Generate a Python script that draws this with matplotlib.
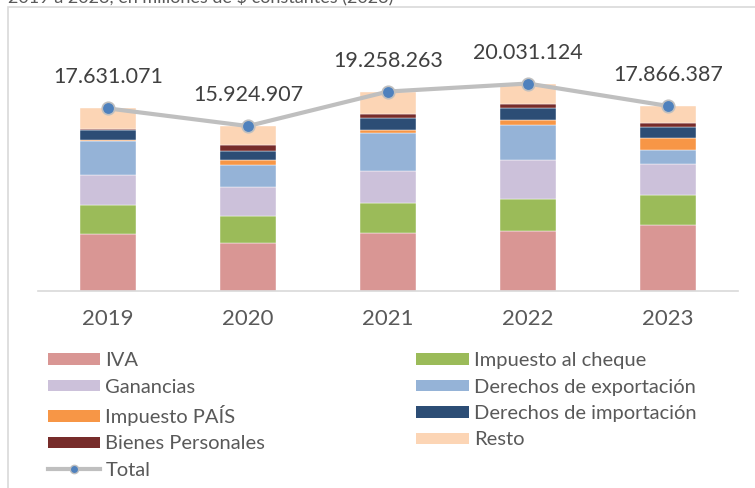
import numpy as np
import matplotlib
matplotlib.use("Agg")
import matplotlib.pyplot as plt
from matplotlib.patches import Patch, Rectangle
from matplotlib.lines import Line2D

plt.rcParams["font.family"] = ["Lato", "DejaVu Sans"]

# ---------------------------------------------------------------------------
# Data: recaudación por tributo, en millones de $ constantes (2023)
# ---------------------------------------------------------------------------
YEARS = ["2019", "2020", "2021", "2022", "2023"]

IVA       = [5480000, 4650000, 5570000, 5790000, 6330000]
CHEQUE    = [2830000, 2600000, 2930000, 3060000, 2950000]
GANANCIAS = [2900000, 2760000, 3120000, 3790000, 2990000]
EXPORT    = [3280000, 2120000, 3610000, 3350000, 1390000]
PAIS      = [50000,    510000,  320000,  510000, 1120000]
IMPORT    = [1000000,  910000, 1190000, 1190000, 1100000]
BIENES    = [100000,   510000,  390000,  390000,  320000]
RESTO     = [1990000, 1860000, 2130000, 1950000, 1670000]
TOTAL     = [17631071, 15924907, 19258263, 20031124, 17866387]

SERIES = [
    ("IVA", IVA, "#D99694"),
    ("Impuesto al cheque", CHEQUE, "#9BBB59"),
    ("Ganancias", GANANCIAS, "#CCC1DA"),
    ("Derechos de exportación", EXPORT, "#95B3D7"),
    ("Impuesto PAÍS", PAIS, "#F79646"),
    ("Derechos de importación", IMPORT, "#2C4D75"),
    ("Bienes Personales", BIENES, "#772C2A"),
    ("Resto", RESTO, "#FCD5B5"),
]

TEXT = "#595959"


def fmt_miles(v):
    return f"{v:,.0f}".replace(",", ".")


def main():
    fig = plt.figure(figsize=(7.55, 4.88), dpi=100)
    ax = fig.add_axes([38 / 755, 1 - 291 / 488, 700 / 755, 261 / 488])

    x = np.arange(len(YEARS))
    bottom = np.zeros(len(YEARS))
    handles = {}
    for label, vals, color in SERIES:
        ax.bar(x, vals, width=0.4, bottom=bottom, color=color,
               edgecolor="white", linewidth=0.3, zorder=2)
        bottom += np.array(vals)
        handles[label] = Patch(facecolor=color, edgecolor="none")

    ax.plot(x, TOTAL, color="#BFBFBF", linewidth=3.0, marker="o",
            markersize=9, markerfacecolor="#4F81BD",
            markeredgecolor="#BFBFBF", markeredgewidth=1.2, zorder=4)
    for xi, v in zip(x, TOTAL):
        ax.annotate(fmt_miles(v), xy=(xi, v), xytext=(0, 31),
                    textcoords="offset pixels", ha="center", va="center",
                    fontsize=15.5, color="#404040")

    ax.set_xlim(-0.5, 4.5)
    ax.set_ylim(0, 25.2e6)
    ax.set_xticks(x)
    ax.set_xticklabels(YEARS, fontsize=16, color=TEXT)
    ax.tick_params(axis="x", length=0, pad=13)
    ax.set_yticks([])
    for s in ("top", "right", "left"):
        ax.spines[s].set_visible(False)
    ax.spines["bottom"].set_color("#D9D9D9")
    ax.spines["bottom"].set_linewidth(1.2)

    total_handle = Line2D([], [], color="#BFBFBF", linewidth=3.0, marker="o",
                          markersize=6, markerfacecolor="#4F81BD",
                          markeredgecolor="#BFBFBF")
    # column-major order so rows read IVA | cheque, Ganancias | export ...
    order = ["IVA", "Ganancias", "Impuesto PAÍS", "Bienes Personales",
             None, "Impuesto al cheque", "Derechos de exportación",
             "Derechos de importación", "Resto"]
    hs, ls = [], []
    for k in order:
        if k is None:
            hs.append(total_handle)
            ls.append("Total")
        else:
            hs.append(handles[k])
            ls.append(k)
    fig.legend(hs, ls, loc="upper left", bbox_to_anchor=(38 / 755, 1 - 342 / 488),
               ncol=2, frameon=False, fontsize=14.5, labelcolor=TEXT,
               handlelength=2.6, handleheight=0.5, handletextpad=0.25,
               labelspacing=0.47, columnspacing=7.5, borderpad=0)

    # chart frame and clipped title (as in the source screenshot)
    fig.add_artist(Rectangle((8 / 755, -0.1), 1.2, 1.1 - 7 / 488,
                             transform=fig.transFigure, fill=False,
                             edgecolor="#D9D9D9", linewidth=1.2))
    fig.text(8 / 755, 1 - 3 / 488,
             "2019 a 2023, en millones de $ constantes (2023)",
             ha="left", va="baseline", fontsize=13, color=TEXT)

    fig.savefig("out.png", dpi=100)
    plt.close(fig)


if __name__ == "__main__":
    main()
